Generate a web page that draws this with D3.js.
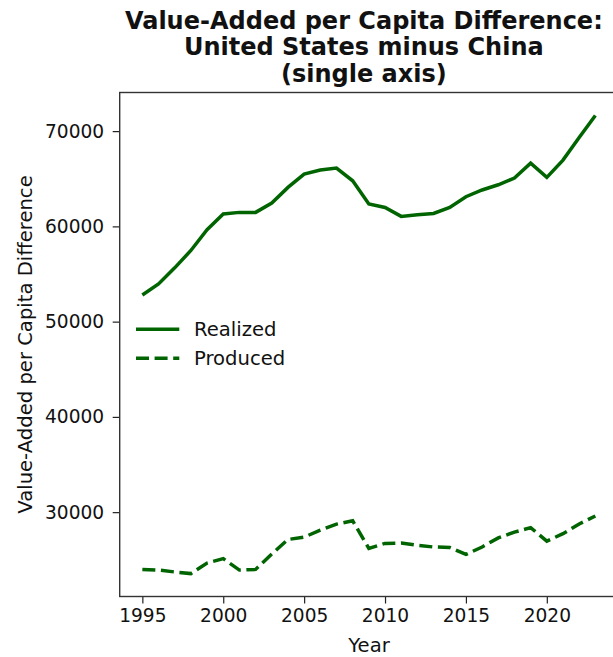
<!DOCTYPE html>
<html>
<head>
<meta charset="utf-8">
<script src="https://cdn.jsdelivr.net/npm/d3@7"></script>
<style>
	body { margin: 0; background: #fff; overflow: hidden; }
	text { font-family: "DejaVu Sans", sans-serif; fill: #111; }
</style>
</head>
<body>
<div id="chart_container"></div>
<script>
var years = [1995, 1996, 1997, 1998, 1999, 2000, 2001, 2002, 2003, 2004,
	2005, 2006, 2007, 2008, 2009, 2010, 2011, 2012, 2013, 2014,
	2015, 2016, 2017, 2018, 2019, 2020, 2021, 2022, 2023];

var realized = [52800, 53960, 55650, 57470, 59650, 61300, 61470, 61470, 62450, 64090,
	65490, 65910, 66120, 64790, 62350, 61990, 61050, 61230, 61360, 61990,
	63110, 63820, 64370, 65070, 66640, 65140, 66960, 69330, 71650];

var produced = [23990, 23920, 23720, 23550, 24660, 25120, 23920, 23990, 25600, 27130,
	27380, 28110, 28740, 29100, 26190, 26720, 26760, 26520, 26340, 26300,
	25560, 26340, 27300, 27900, 28380, 26960, 27740, 28760, 29600];

var yTicks = [30000, 40000, 50000, 60000, 70000];
var xTicks = [1995, 2000, 2005, 2010, 2015, 2020];

var titleLines = ["Value-Added per Capita Difference:", "United States minus China", "(single axis)"];
var seriesNames = ["Realized", "Produced"];

var width = 613, height = 657;
var plot = { left: 119.7, top: 92.5, right: 618, bottom: 596.5 };
var green = "#006400";
var tickFont = "18.6px";
var labelFont = "19.6px";

function padded(lo, hi)
{
	// matplotlib style 5% margins
	var pad = (hi - lo) * 0.05;
	return [lo - pad, hi + pad];
}

function drawChart()
{
	var svg = d3.select("#chart_container").append("svg")
		.attr("width", width)
		.attr("height", height);

	var x = d3.scaleLinear()
		.domain(padded(d3.min(years), d3.max(years)))
		.range([plot.left, plot.right]);

	var allValues = realized.concat(produced);
	var y = d3.scaleLinear()
		.domain(padded(d3.min(allValues), d3.max(allValues)))
		.range([plot.bottom, plot.top]);

	// title, three centred lines
	svg.append("g").selectAll("text").data(titleLines).enter().append("text")
		.attr("x", (plot.left + plot.right) / 2 - 5)
		.attr("y", function(d, i) { return 28.5 + i * 26.5; })
		.attr("text-anchor", "middle")
		.style("font-size", "24px")
		.style("font-weight", "bold")
		.text(function(d) { return d; });

	// lines
	var line = function(values) {
		return d3.line()
			.x(function(d, i) { return x(years[i]); })
			.y(function(d) { return y(d); })(values);
	};

	svg.append("path")
		.attr("d", line(realized))
		.attr("fill", "none")
		.attr("stroke", green)
		.attr("stroke-width", 3.5);

	svg.append("path")
		.attr("d", line(produced))
		.attr("fill", "none")
		.attr("stroke", green)
		.attr("stroke-width", 3.5)
		.attr("stroke-dasharray", "13,5.6");

	// axes
	var xAxis = svg.append("g")
		.attr("transform", "translate(0," + plot.bottom + ")")
		.call(d3.axisBottom(x).tickValues(xTicks).tickFormat(d3.format("d")).tickSize(7).tickPadding(5));

	var yAxis = svg.append("g")
		.attr("transform", "translate(" + plot.left + ",0)")
		.call(d3.axisLeft(y).tickValues(yTicks).tickFormat(d3.format("d")).tickSize(7).tickPadding(8.5));

	[xAxis, yAxis].forEach(function(a) {
		a.select(".domain").remove();
		a.selectAll(".tick line").attr("stroke", "#222").attr("stroke-width", 1.2);
		a.selectAll(".tick text")
			.style("font-size", tickFont)
			.style("font-family", "'DejaVu Sans', sans-serif")
			.attr("fill", "#111");
	});

	// spines (right one falls outside the picture)
	svg.append("rect")
		.attr("x", plot.left)
		.attr("y", plot.top)
		.attr("width", plot.right - plot.left)
		.attr("height", plot.bottom - plot.top)
		.attr("fill", "none")
		.attr("stroke", "#333")
		.attr("stroke-width", 1.4);

	// axis labels
	svg.append("text")
		.attr("x", 369)
		.attr("y", 652)
		.attr("text-anchor", "middle")
		.style("font-size", labelFont)
		.text("Year");

	svg.append("text")
		.attr("transform", "translate(32," + ((plot.top + plot.bottom) / 2) + ") rotate(-90)")
		.attr("text-anchor", "middle")
		.style("font-size", labelFont)
		.text("Value-Added per Capita Difference");

	// legend, no frame
	var legend = svg.append("g").selectAll("g").data(seriesNames).enter().append("g")
		.attr("transform", function(d, i) { return "translate(136," + (329.3 + i * 29) + ")"; });

	legend.append("line")
		.attr("x1", 0).attr("x2", 43.3)
		.attr("y1", 0).attr("y2", 0)
		.attr("stroke", green)
		.attr("stroke-width", 3.5)
		.attr("stroke-dasharray", function(d, i) { return i ? "13,5.6" : null; });

	legend.append("text")
		.attr("x", 58)
		.attr("y", 7)
		.style("font-size", labelFont)
		.text(function(d) { return d; });
}

drawChart();
</script>
</body>
</html>
